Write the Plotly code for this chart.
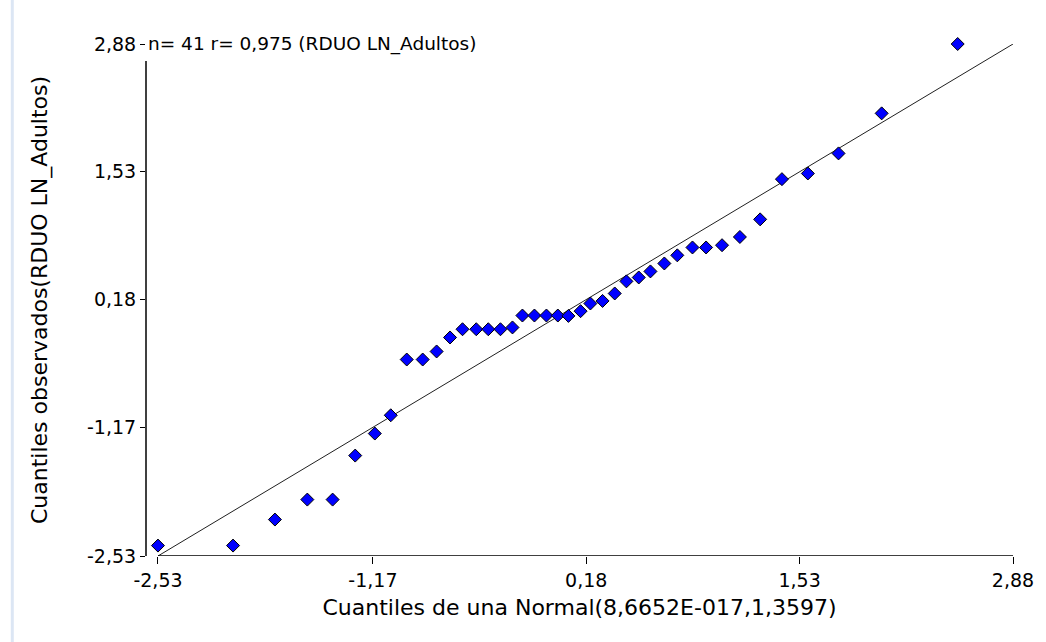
import plotly.graph_objects as go

# Theoretical normal quantiles (x) and observed residual quantiles (y)
x_theo = [-2.53, -2.055, -1.79, -1.585, -1.425, -1.282, -1.158, -1.057, -0.956, -0.855,
          -0.767, -0.682, -0.603, -0.516, -0.44, -0.363, -0.287, -0.224, -0.148, -0.072,
          0.0, 0.067, 0.144, 0.206, 0.283, 0.36, 0.434, 0.512, 0.586, 0.674,
          0.756, 0.852, 0.938, 1.039, 1.152, 1.28, 1.418, 1.582, 1.776, 2.049, 2.53]
y_obs = [-2.42, -2.42, -2.145, -1.934, -1.934, -1.469, -1.236, -1.043, -0.454, -0.454,
         -0.369, -0.221, -0.134, -0.134, -0.134, -0.134, -0.115, 0.011, 0.011, 0.011,
         0.011, 0.007, 0.057, 0.138, 0.165, 0.244, 0.372, 0.413, 0.477, 0.561,
         0.647, 0.73, 0.73, 0.754, 0.841, 1.027, 1.452, 1.512, 1.724, 2.147, 2.88]
ref_line = [-2.53, 2.88]
tick_vals = [-2.53, -1.17, 0.18, 1.53, 2.88]
tick_text = ["-2,53", "-1,17", "0,18", "1,53", "2,88"]
title_text = "n= 41 r= 0,975 (RDUO LN_Adultos)"
x_title = "Cuantiles de una Normal(8,6652E-017,1,3597)"
y_title = "Cuantiles observados(RDUO LN_Adultos)"

FONT = "DejaVu Sans"

fig = go.Figure()
fig.add_trace(go.Scatter(x=ref_line, y=ref_line, mode="lines",
                         line=dict(color="#202020", width=1), hoverinfo="skip"))
fig.add_trace(go.Scatter(x=x_theo, y=y_obs, mode="markers", cliponaxis=False,
                         marker=dict(symbol="diamond", size=10, color="#0000ff",
                                     line=dict(color="#000000", width=1))))

x_left = -2.53 - 12 / 158.4
fig.update_layout(
    width=1046, height=642,
    margin=dict(l=146, r=31, t=44, b=86),
    paper_bgcolor="white", plot_bgcolor="white",
    showlegend=False,
    font=dict(family=FONT, size=16, color="#000000"),
    xaxis=dict(range=[x_left, 2.88], tickvals=tick_vals, ticktext=tick_text,
               showgrid=False, zeroline=False, showline=False,
               ticks="outside", ticklen=7, tickcolor="black", tickwidth=1,
               tickfont=dict(size=19),
               title=dict(text=x_title, font=dict(size=22), standoff=9)),
    yaxis=dict(range=[-2.53, 2.88], tickvals=tick_vals, ticktext=tick_text,
               showgrid=False, zeroline=False, showline=False,
               ticks="outside", ticklen=5, tickcolor="black", tickwidth=1,
               tickfont=dict(size=19),
               title=dict(text=y_title, font=dict(size=22), standoff=33)),
)
# axis lines
fig.add_shape(type="line", xref="x", yref="y", x0=-2.53, x1=2.88, y0=-2.53, y1=-2.53,
              line=dict(color="black", width=1.5))
fig.add_shape(type="line", xref="paper", yref="y", x0=0, x1=0, y0=-2.53, y1=2.70,
              line=dict(color="black", width=1.5))
# light window border on the left
fig.add_shape(type="line", xref="paper", yref="paper", x0=(12 - 146) / 869, x1=(12 - 146) / 869,
              y0=-86 / 512, y1=1 + 44 / 512, line=dict(color="#dce6f4", width=3))
fig.add_annotation(text=title_text, xref="paper", yref="y", x=0.0, y=2.88,
                   xanchor="left", yanchor="middle", showarrow=False,
                   font=dict(size=18.5, color="black"))
fig.write_html("out.html")
